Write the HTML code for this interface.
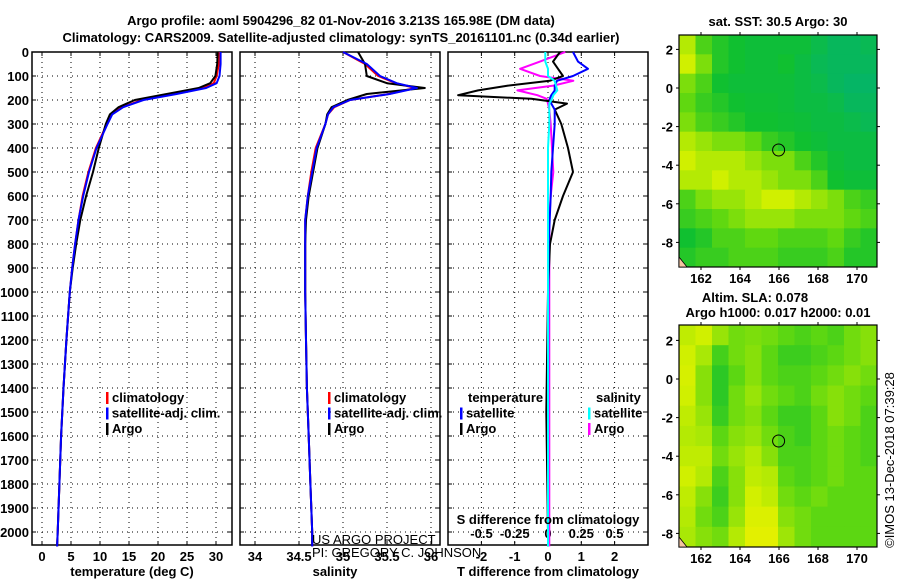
<!DOCTYPE html>
<html><head><meta charset="utf-8"><style>
body{margin:0;background:#fff;width:900px;height:580px;overflow:hidden}
svg{display:block;font-family:"Liberation Sans",sans-serif}
text{font-weight:bold;font-size:13px;fill:#000}
</style></head><body>
<svg id="c" width="900" height="580" viewBox="0 0 900 580">
<text x="341" y="25" text-anchor="middle" font-size="14">Argo profile: aoml 5904296_82 01-Nov-2016 3.213S 165.98E (DM data)</text>
<text x="341" y="42" text-anchor="middle" font-size="14">Climatology: CARS2009. Satellite-adjusted climatology: synTS_20161101.nc (0.34d earlier)</text>
<g id="g"></g>
<text transform="translate(894,460) rotate(-90)" text-anchor="middle" font-size="12" style="font-weight:normal">©IMOS 13-Dec-2018 07:39:28</text>
</svg>
<script>
// depth levels (dbar)
const depths=[0,50,100,130,150,175,200,230,260,300,400,500,600,700,800,900,1000,1200,1400,1600,1800,2000,2060];
const tempArgo=[30.3,30.2,29.9,29.0,27.0,21.5,16.0,13.2,11.7,11.0,9.8,8.8,7.6,6.6,5.9,5.3,4.8,4.2,3.7,3.3,3.0,2.7,2.6];
const tempClim=[30.6,30.5,30.1,29.6,27.8,22.8,17.2,13.8,12.0,11.2,9.3,8.0,7.0,6.3,5.7,5.2,4.8,4.2,3.7,3.3,3.0,2.7,2.6];
const tempSat=[30.8,30.8,30.6,30.1,28.3,23.2,17.5,14.0,12.1,11.3,9.4,8.1,7.1,6.3,5.7,5.2,4.8,4.2,3.7,3.3,3.0,2.7,2.6];
const salArgo=[35.17,35.25,35.27,35.5,35.93,35.27,35.05,34.87,34.82,34.8,34.71,34.66,34.61,34.58,34.57,34.57,34.57,34.58,34.59,34.61,34.63,34.65,34.65];
const salClim=[35.0,35.25,35.4,35.6,35.82,35.52,35.08,34.9,34.83,34.8,34.69,34.64,34.6,34.57,34.57,34.57,34.57,34.58,34.59,34.61,34.63,34.65,34.65];
const salSat=[35.0,35.27,35.42,35.61,35.84,35.53,35.08,34.89,34.83,34.8,34.7,34.65,34.6,34.57,34.57,34.57,34.57,34.58,34.59,34.61,34.63,34.65,34.65];
const diffDepths=[0,40,70,100,120,140,160,180,195,215,240,300,400,500,600,700,800,1000,1500,2000,2060];
const dTArgo=[0.36,0.15,0.3,0.45,0.05,-1.2,-2.1,-2.7,-0.5,0.57,0.2,0.4,0.6,0.75,0.45,0.2,0.06,0.0,-0.05,0,0];
const dTSat=[0.75,0.9,1.2,0.75,0.27,0.2,0.2,0.1,0.05,0.1,0.2,0.2,0.15,0.1,0.08,0.05,0.02,0.01,0,0,0];
const dSArgo=[0.13,-0.06,-0.21,-0.06,0.19,0.04,-0.23,-0.08,-0.01,0.0,0.01,0.02,0.03,0.04,0.02,0.01,0.01,0.01,0.01,0.01,0.01];
const dSSat=[-0.02,-0.02,0.0,0.0,0.05,0.06,0.07,0.04,0.03,0.01,0.01,0.01,0.0,0.0,0.0,0.0,0.0,0.0,0.0,0.0,0.0];
const depthTicks=[0,100,200,300,400,500,600,700,800,900,1000,1100,1200,1300,1400,1500,1600,1700,1800,1900,2000];
const tempTicks=[0,5,10,15,20,25,30];
const salTicks=[34,34.5,35,35.5,36];
const dTTicks=[-2,-1,0,1,2];
const dSTicks=[-0.5,-0.25,0,0.25,0.5];
const dSTickLabels=["-0.5","-0.25","0","0.25","0.5"];
const lonTicks=[162,164,166,168,170];
const latTicks=[2,0,-2,-4,-6,-8];
// SST index 0 (teal) .. 1 (yellow), rows north->south
const sstGrid=[
[.8,.6,.5,.45,.4,.4,.4,.4,.3,.2,.2,.25],
[.85,.7,.5,.45,.4,.4,.45,.35,.25,.2,.2,.2],
[.7,.6,.45,.4,.4,.4,.4,.35,.3,.2,.15,.15],
[.65,.55,.5,.45,.42,.42,.4,.35,.35,.3,.2,.2],
[.7,.6,.55,.5,.45,.45,.42,.4,.35,.35,.3,.25],
[.8,.75,.7,.7,.65,.55,.5,.45,.4,.35,.35,.35],
[.85,.8,.8,.8,.75,.7,.7,.6,.5,.4,.35,.35],
[.8,.8,.85,.8,.8,.75,.7,.7,.6,.45,.4,.4],
[.6,.7,.75,.75,.8,.85,.85,.8,.75,.7,.6,.55],
[.55,.6,.65,.7,.75,.75,.75,.7,.7,.7,.65,.6],
[.45,.5,.6,.6,.65,.65,.6,.6,.6,.65,.55,.5],
[.5,.55,.55,.6,.6,.6,.55,.55,.55,.6,.5,.5]];
const slaGrid=[
[.82,.85,.75,.68,.7,.68,.64,.6,.64,.6,.68,.72],
[.85,.78,.58,.68,.72,.64,.56,.56,.6,.64,.68,.72],
[.88,.72,.52,.64,.72,.64,.6,.6,.64,.68,.72,.68],
[.85,.72,.52,.68,.75,.68,.64,.6,.68,.72,.68,.64],
[.82,.75,.55,.68,.72,.64,.56,.56,.64,.72,.68,.6],
[.8,.78,.64,.72,.75,.68,.6,.56,.64,.68,.64,.6],
[.82,.82,.68,.75,.8,.72,.6,.6,.64,.68,.64,.6],
[.85,.8,.6,.72,.82,.8,.64,.6,.64,.68,.64,.64],
[.82,.72,.56,.72,.86,.82,.68,.64,.68,.64,.64,.64],
[.8,.68,.6,.75,.9,.9,.72,.68,.64,.64,.64,.64],
[.78,.72,.68,.8,.94,.94,.76,.68,.64,.64,.64,.64]];
const NS='http://www.w3.org/2000/svg',G=document.getElementById('g');
function mk(t,a,p){const e=document.createElementNS(NS,t);for(const k in a)e.setAttribute(k,a[k]);(p||G).appendChild(e);return e;}
const yD=d=>52+d*0.24;
const xT=v=>42+v*5.8;
const xS=v=>299+(v-34.5)*88;
const xDT=v=>548+v*33.3;
const xDS=v=>548+v*133;
function panel(x0,name){
  const r=mk('rect',{x:x0,y:52,width:200,height:493,fill:'none',stroke:'#000','stroke-width':1.5});
  
  
  depthTicks.forEach(d=>{if(d>0){const l=mk('line',{x1:x0,x2:x0+200,y1:yD(d),y2:yD(d),stroke:'#000','stroke-dasharray':'1,4'});
  
  }
  mk('line',{x1:x0,x2:x0+4,y1:yD(d),y2:yD(d),stroke:'#000'});mk('line',{x1:x0+196,x2:x0+200,y1:yD(d),y2:yD(d),stroke:'#000'});});
}
function vticks(x0,ticks,fx,labels,ty){
  ticks.forEach((t,i)=>{const x=fx(t);
   const l=mk('line',{x1:x,x2:x,y1:52,y2:545,stroke:'#000','stroke-dasharray':'1,4'});
   
   
   mk('line',{x1:x,x2:x,y1:541,y2:545,stroke:'#000'});mk('line',{x1:x,x2:x,y1:52,y2:56,stroke:'#000'});
   const tx=mk('text',{x:x,y:ty,'text-anchor':'middle'});tx.textContent=labels[i];
   
   });
}
function line(xs,ds,fx,col,name,w){
  const p=xs.map((v,i)=>(i?'L':'M')+fx(v).toFixed(1)+','+yD(ds[i]).toFixed(1)).join('');
  const e=mk('path',{d:p,fill:'none',stroke:col,'stroke-width':w||2,'stroke-linejoin':'round'});
  
  
}
function txt(x,y,s,name,anc,sz,norm){const t=mk('text',{x:x,y:y,'text-anchor':anc||'start'});if(sz)t.setAttribute('font-size',sz);if(norm)t.style.fontWeight='normal';t.textContent=s;
  
  return t;}
function legend(x,y,items){items.forEach((it,i)=>{mk('rect',{x:x,y:y+i*15.5-10,width:2.5,height:12,fill:it[1]});txt(x+6,y+i*15.5,it[0],'legend-entry-'+it[0].replace(/[^a-z]+/gi,'-').toLowerCase());});}
// panel 1
panel(32,'temperature-panel');
depthTicks.forEach(d=>{txt(29,yD(d)+5,String(d),'y-tick-label','end');});
vticks(32,tempTicks,xT,tempTicks.map(String),561);
line(tempClim,depths,xT,'#f00','temp-climatology-line');
line(tempArgo,depths,xT,'#000','temp-argo-line');
line(tempSat,depths,xT,'#00f','temp-satellite-line');
txt(132,576,'temperature (deg C)','x-axis-title-temperature','middle');
legend(106,402,[['climatology','#f00'],['satellite-adj. clim.','#00f'],['Argo','#000']]);
// panel 2
panel(240,'salinity-panel');
vticks(240,salTicks,xS,salTicks.map(String),561);
line(salClim,depths,xS,'#f00','sal-climatology-line');
line(salArgo,depths,xS,'#000','sal-argo-line');
line(salSat,depths,xS,'#00f','sal-satellite-line');
txt(335,576,'salinity','x-axis-title-salinity','middle');
legend(328,402,[['climatology','#f00'],['satellite-adj. clim.','#00f'],['Argo','#000']]);
txt(312,544,'US ARGO PROJECT','project-credit','start',12,true);
txt(312,557,'PI: GREGORY C. JOHNSON','pi-credit','start',12,true);
// panel 3
panel(448,'difference-panel');
vticks(448,dTTicks,xDT,dTTicks.map(String),561);
dSTicks.forEach((t,i)=>{txt(xDS(t),538,dSTickLabels[i],'s-diff-tick-label','middle');});
line(dSArgo,diffDepths,xDS,'#f0f','sal-diff-argo-line');
line(dTArgo,diffDepths,xDT,'#000','temp-diff-argo-line');
line(dTSat,diffDepths,xDT,'#00f','temp-diff-satellite-line');
line(dSSat,diffDepths,xDS,'#0ff','sal-diff-satellite-line');
txt(548,524,'S difference from climatology','s-diff-axis-title','middle');
txt(548,576,'T difference from climatology','t-diff-axis-title','middle');
txt(468,402,'temperature','legend-temperature-header');
txt(596,402,'salinity','legend-salinity-header');
legend(460,417.5,[['satellite','#00f'],['Argo','#000']]);
legend(588,417.5,[['satellite','#0ff'],['Argo','#f0f']]);
// maps
const lonX=v=>701+(v-162)*19.5;
function cmap(v){const st=[[0,[0,176,128]],[0.45,[16,192,48]],[0.65,[96,216,16]],[0.85,[208,240,0]],[1,[240,240,0]]];
  for(let i=1;i<st.length;i++)if(v<=st[i][0]){const a=st[i-1],b=st[i],f=(v-a[0])/(b[0]-a[0]);return 'rgb('+a[1].map((c,k)=>Math.round(c+(b[1][k]-c)*f)).join(',')+')';}return 'rgb(240,240,0)';}
function map(y0,y1,lat2y,grid,name){
  const x0=679,x1=877,rows=grid.length,cols=grid[0].length,cw=(x1-x0)/cols,ch=(y1-y0)/rows;
  grid.forEach((row,r)=>row.forEach((v,c)=>{const e=mk('rect',{x:x0+c*cw,y:y0+r*ch,width:cw+0.5,height:ch+0.5,fill:cmap(v)});
    
    }));
  const f=mk('rect',{x:x0,y:y0,width:x1-x0,height:y1-y0,fill:'none',stroke:'#000','stroke-width':1.2});
  
  
  const ppd=19.3;
  latTicks.forEach(l=>{const y=lat2y-l*ppd;mk('line',{x1:x0-3,x2:x0,y1:y,y2:y,stroke:'#000'});mk('line',{x1:x1,x2:x1+3,y1:y,y2:y,stroke:'#000'});txt(673,y+5,String(l),'map-lat-label','end');});
  lonTicks.forEach(l=>{const x=lonX(l);mk('line',{x1:x,x2:x,y1:y1,y2:y1+3,stroke:'#000'});mk('line',{x1:x,x2:x,y1:y0-3,y2:y0,stroke:'#000'});txt(x,y1+16,String(l),'map-lon-label','middle');});
  const c=mk('circle',{cx:lonX(165.98),cy:lat2y+3.213*ppd,r:6,fill:'none',stroke:'#000'});
  
  
  mk('path',{d:`M${x0},${y1-10} L${x0+8},${y1} L${x0},${y1} Z`,fill:'#f4c4a0',stroke:'#000','stroke-width':0.8});
}
map(35,267,88,sstGrid,'sst-map');
txt(778,26,'sat. SST: 30.5 Argo: 30','sst-map-title','middle');
map(325,547,379,slaGrid,'sla-map');
txt(755,302,'Altim. SLA: 0.078','sla-map-title','middle');
txt(778,317,'Argo h1000: 0.017 h2000: 0.01','sla-map-subtitle','middle');
</script>
</body></html>
